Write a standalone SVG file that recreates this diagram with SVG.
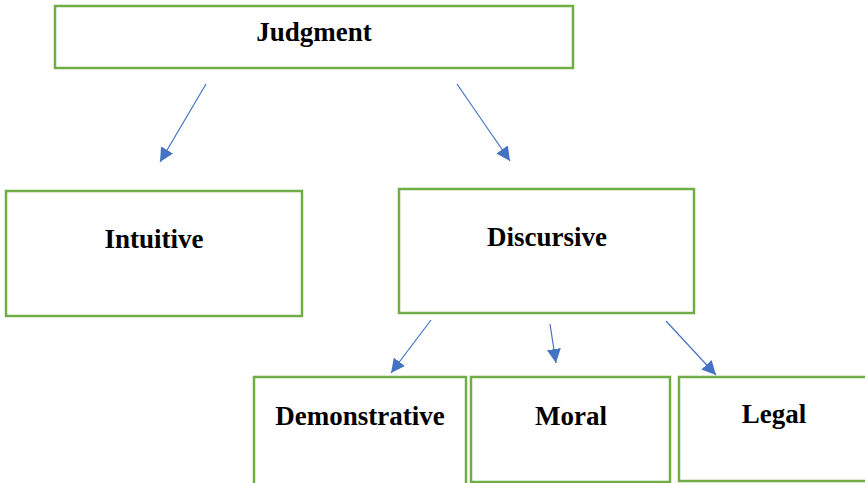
<svg xmlns="http://www.w3.org/2000/svg" width="865" height="483" viewBox="0 0 865 483">
<style>
.box{fill:#fff;stroke:#70AD47;stroke-width:2.5}
.lbl{font-family:"Liberation Serif","Times New Roman",serif;font-weight:bold;font-size:27px;fill:#000;text-anchor:middle}
.con{stroke:#4472C4;stroke-width:1.2;fill:none;marker-end:url(#ah)}
</style>
<defs>
<marker id="ah" markerUnits="userSpaceOnUse" markerWidth="15" markerHeight="14" refX="14" refY="7" orient="auto">
<path d="M0,0 L14,7 L0,14 Z" fill="#4472C4"/>
</marker>
</defs>
<rect width="865" height="483" fill="#fff"/>
<g id="judgment"><rect class="box" x="55" y="6" width="518" height="62"/><text class="lbl" x="314" y="41">Judgment</text></g>
<g id="intuitive"><rect class="box" x="6" y="191" width="296" height="125"/><text class="lbl" x="154" y="248">Intuitive</text></g>
<g id="discursive"><rect class="box" x="399" y="189" width="295" height="124"/><text class="lbl" x="547" y="246">Discursive</text></g>
<g id="demonstrative"><rect class="box" x="254" y="377" width="212" height="110"/><text class="lbl" x="360" y="425">Demonstrative</text></g>
<g id="moral"><rect class="box" x="471" y="377" width="199" height="105"/><text class="lbl" x="571" y="425">Moral</text></g>
<g id="legal"><rect class="box" x="679" y="377" width="190" height="104"/><text class="lbl" x="774" y="423">Legal</text></g>
<g id="connectors">
<line class="con" x1="206" y1="84" x2="160" y2="162"/>
<line class="con" x1="457" y1="84" x2="510" y2="161"/>
<line class="con" x1="431" y1="320" x2="391" y2="373"/>
<line class="con" x1="550" y1="324" x2="556" y2="363"/>
<line class="con" x1="666" y1="321" x2="716" y2="375"/>
</g>
</svg>
